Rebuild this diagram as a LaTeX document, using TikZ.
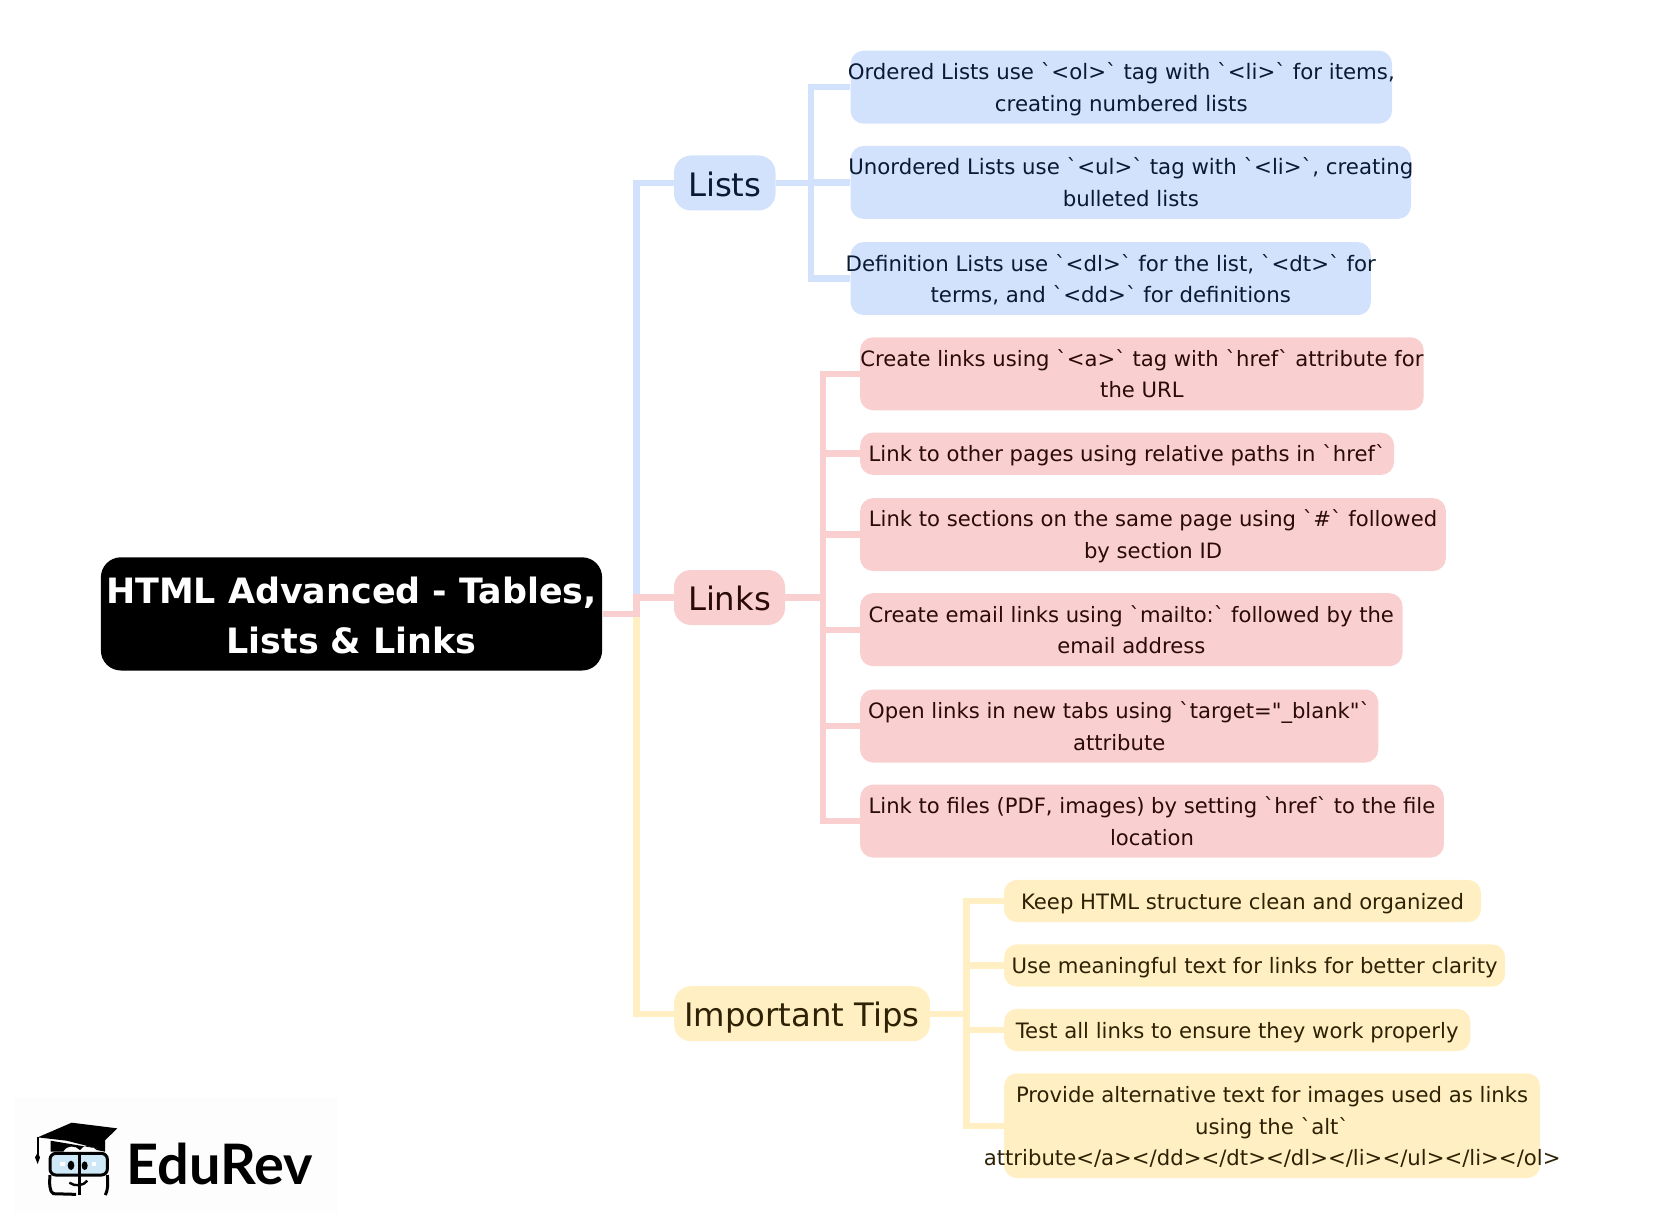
\documentclass[tikz,border=0pt]{standalone}
\usepackage{fontspec}
\newfontfamily\mapfont{DejaVu Sans}
\newfontfamily\logofont{Lato}
\definecolor{listfill}{HTML}{D2E2FC}
\definecolor{listtext}{HTML}{0A1A33}
\definecolor{linkfill}{HTML}{F9CFCF}
\definecolor{linktext}{HTML}{2B0A0A}
\definecolor{tipfill}{HTML}{FFEFC2}
\definecolor{tiptext}{HTML}{2E2205}
\definecolor{lensblue}{HTML}{CFE8F7}
\newcommand{\zw}[2][0.35em]{\hbox to 0pt{\hss\raisebox{-#1}[0pt][0pt]{\begin{tabular}{@{}c@{}}#2\end{tabular}}\hss}}
\tikzset{
  leaf/.style={rectangle,rounded corners=6.5pt,anchor=west,inner sep=0pt,
    font=\mapfont\fontsize{#1}{15.9}\selectfont},
  branch/.style={rectangle,rounded corners=8.5pt,anchor=west,inner sep=0pt,
    text height=13.2pt,text depth=0pt,font=\mapfont\fontsize{16.15}{19}\selectfont},
  link/.style={line width=3.2pt}
}
\begin{document}
\begin{tikzpicture}[x=0.5pt,y=-0.5pt]
\useasboundingbox (0,0) rectangle (1658,1229);
\fill[fill=black!0.7] (14,1098) rectangle (338,1213);

\node[rectangle,rounded corners=10pt,fill=black,text=white,anchor=west,inner sep=0pt,
  minimum width=250.6pt,minimum height=56.6pt,
  font=\mapfont\bfseries\fontsize{17.45}{25}\selectfont] (root) at (100.5,613.9)
  {\zw[0.37em]{HTML Advanced - Tables,\\Lists \& Links}};

\node[branch,fill=listfill,text=listtext,minimum width=50.75pt,minimum height=27.5pt] (lists) at (673.6,183) {Lists};
\node[branch,fill=linkfill,text=linktext,minimum width=55.5pt,minimum height=27.5pt] (links) at (673.6,597.5) {Links};
\node[branch,fill=tipfill,text=tiptext,minimum width=128pt,minimum height=27.5pt] (tips) at (673.6,1013.7) {Important Tips};

\coordinate (rootbus) at (636.6,0);
\coordinate (listbus) at (811,0);
\coordinate (linkbus) at (822.7,0);
\coordinate (tipbus) at (966.6,0);

\draw[link,listfill] (root.east) -- (rootbus |- root.east) |- (lists.west);
\draw[link,tipfill] (root.east) -- (rootbus |- root.east) |- (tips.west);
\draw[link,linkfill] (root.east) -- (rootbus |- root.east) |- (links.west);

\foreach \n/\y/\w/\t in {
  ordered/87.2/270.7pt/{Ordered Lists use `<ol>` tag with `<li>` for items,\\creating numbered lists},
  unordered/182.4/280.2pt/{Unordered Lists use `<ul>` tag with `<li>`, creating\\bulleted lists},
  definition/278.6/260.1pt/{Definition Lists use `<dl>` for the list, `<dt>` for\\terms, and `<dd>` for definitions}}
{
  \node[leaf=10.65,fill=listfill,text=listtext,minimum width=\w,minimum height=36.5pt] (\n) at (850.2,\y) {\zw{\t}};
  \draw[link,listfill] (lists.east) -- (listbus |- lists.east) |- (\n.west);
}

\foreach \n/\y/\w/\h/\t in {
  create/373.8/281.8pt/36.5pt/{Create links using `<a>` tag with `href` attribute for\\the URL},
  relative/453.7/267pt/21.15pt/{Link to other pages using relative paths in `href`},
  sections/534.6/292.9pt/36.5pt/{Link to sections on the same page using `\#` followed\\by section ID},
  email/629.7/271.2pt/36.5pt/{Create email links using `mailto:` followed by the\\email address},
  newtab/726/259.1pt/36.5pt/{Open links in new tabs using `target="\_blank"`\\attribute},
  files/821.1/291.9pt/36.5pt/{Link to files (PDF, images) by setting `href` to the file\\location}}
{
  \node[leaf=10.57,fill=linkfill,text=linktext,minimum width=\w,minimum height=\h] (\n) at (859.7,\y) {\zw{\t}};
  \draw[link,linkfill] (links.east) -- (linkbus |- links.east) |- (\n.west);
}

\foreach \n/\y/\w/\h/\t in {
  clean/901/238.5pt/21.15pt/{Keep HTML structure clean and organized},
  meaningful/965.5/250.6pt/21.15pt/{Use meaningful text for links for better clarity},
  testall/1030/233.2pt/21.15pt/{Test all links to ensure they work properly},
  alttext/1125.7/268.1pt/52.35pt/{Provide alternative text for images used as links\\using the `alt`\\attribute</a></dd></dt></dl></li></ul></li></ol>}}
{
  \node[leaf=10.6,fill=tipfill,text=tiptext,minimum width=\w,minimum height=\h] (\n) at (1003.6,\y) {\zw{\t}};
  \draw[link,tipfill] (tips.east) -- (tipbus |- tips.east) |- (\n.west);
}

% logo
\node[anchor=base west,inner sep=0pt,font=\logofont\bfseries\fontsize{27.9}{30}\selectfont] (edurev) at (126,1184) {EduRev};
\begin{scope}[shift={(0,1050)},x=0.1667pt,y=-0.1667pt]
\fill (113,262) -- (215,218) -- (352,235) -- (290,295) -- (200,272) -- cycle;
\fill (152,272) -- (152,305) -- (190,305) .. controls (200,285) and (225,285) .. (240,300) -- (250,290) .. controls (265,285) and (280,290) .. (290,300) -- (315,305) -- (315,262) -- (290,295) -- cycle;
\draw[line width=1pt] (113,262) -- (113,315);
\fill (113,308) -- (120,322) -- (113,342) -- (105,322) -- cycle;
\draw[line width=1.5pt,fill=lensblue,rounded corners=3pt] (150,310) rectangle (322,375);
\draw[line width=1.5pt] (237,305) -- (237,436);
\draw[line width=1.5pt] (150,375) .. controls (148,400) and (148,425) .. (160,431) -- (228,433);
\draw[line width=1.5pt] (322,375) .. controls (324,400) and (324,420) .. (316,435);
\draw[line width=1.2pt] (208,398) .. controls (225,410) and (250,408) .. (262,392);
\fill (213,346) ellipse (10 and 14);
\fill (254,347) ellipse (9 and 13);
\fill[white] (181,336) rectangle (194,348);
\fill[white] (275,336) rectangle (289,348);
\end{scope}
\end{tikzpicture}
\end{document}
